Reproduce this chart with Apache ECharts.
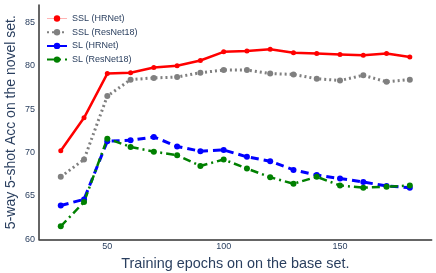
<!DOCTYPE html>
<html><head><meta charset="utf-8">
<script src="https://cdn.jsdelivr.net/npm/echarts@6/dist/echarts.min.js"></script>
<style>html,body{margin:0;padding:0;background:#fff}#c{width:436px;height:273px}</style>
</head><body><div id="c"></div>
<script>
const epochs = [30,40,50,60,70,80,90,100,110,120,130,140,150,160,170,180];
const sslHRNet   = [70.2,74.0,79.1,79.2,79.8,80.0,80.6,81.6,81.7,81.9,81.5,81.4,81.3,81.2,81.4,81.0];
const sslResNet  = [67.2,69.2,76.5,78.4,78.6,78.7,79.2,79.5,79.5,79.1,79.0,78.5,78.3,78.9,78.15,78.4];
const slHRNet    = [63.9,64.6,71.3,71.4,71.8,70.7,70.15,70.3,69.5,69.0,68.0,67.4,67.0,66.6,66.15,65.95];
const slResNet   = [61.5,64.3,71.6,70.65,70.1,69.7,68.45,69.2,68.15,67.15,66.4,67.2,66.2,65.95,66.05,66.2];
const xTicks = [50,100,150];
const yTicks = [60,65,70,75,80,85];
const names = ['SSL (HRNet)','SSL (ResNet18)','SL (HRNet)','SL (ResNet18)'];

const font = 'Liberation Sans, Arial, sans-serif';
const txt = '#2a3f5f';
const pair = a => epochs.map((e,i)=>[e,a[i]]);
function mk(name, data, color, type, width, size){
  return {name, type:'line', data:pair(data), symbol:'circle', symbolSize:size,
    itemStyle:{color}, lineStyle:{color, width, type}, z: 2};
}
const chart = echarts.init(document.getElementById('c'), null, {renderer:'canvas'});
chart.setOption({
  animation:false,
  grid:{left:39, top:5, right:4.3, bottom:33.7, containLabel:false, outerBoundsMode:'none'},
  legend:{left:46, top:13.5, padding:0, orient:'vertical', itemWidth:20, itemHeight:8, itemGap:3.7,
    textStyle:{fontFamily:font, fontSize:9, lineHeight:10, color:txt},
    data:[
      {name:names[0], lineStyle:{width:1, color:'#ffb3b3'}},
      {name:names[1]},{name:names[2]},{name:names[3]}
    ]},
  xAxis:{type:'value', min:20.65, max:189.4,
    name:'Training epochs on on the base set.', nameLocation:'middle', nameGap:17.5,
    nameMoveOverlap:false,
    nameTextStyle:{fontFamily:font, fontSize:14.4, color:txt},
    axisLine:{show:true, lineStyle:{color:'#333', width:1.5}},
    axisTick:{show:false}, splitLine:{show:false},
    axisLabel:{customValues:xTicks, fontFamily:font, fontSize:9, color:txt, margin:3}},
  yAxis:{type:'value', min:60, max:87,
    name:'5-way 5-shot Acc on the novel set.', nameLocation:'middle', nameGap:21,
    nameMoveOverlap:false,
    nameTextStyle:{fontFamily:font, fontSize:14, color:txt},
    axisLine:{show:true, lineStyle:{color:'#333', width:1.5}},
    axisTick:{show:false}, splitLine:{show:false},
    axisLabel:{customValues:yTicks, fontFamily:font, fontSize:9, color:txt, margin:4}},
  series:[
    mk(names[0], sslHRNet, '#ff0000', 'solid', 2.5, 5),
    mk(names[1], sslResNet, '#808080', [2,3], 3, 6),
    mk(names[2], slHRNet, '#0000ff', [8,5], 3, 6),
    mk(names[3], slResNet, '#008000', [8,4,2,4], 2.5, 6)
  ]
});
</script></body></html>
